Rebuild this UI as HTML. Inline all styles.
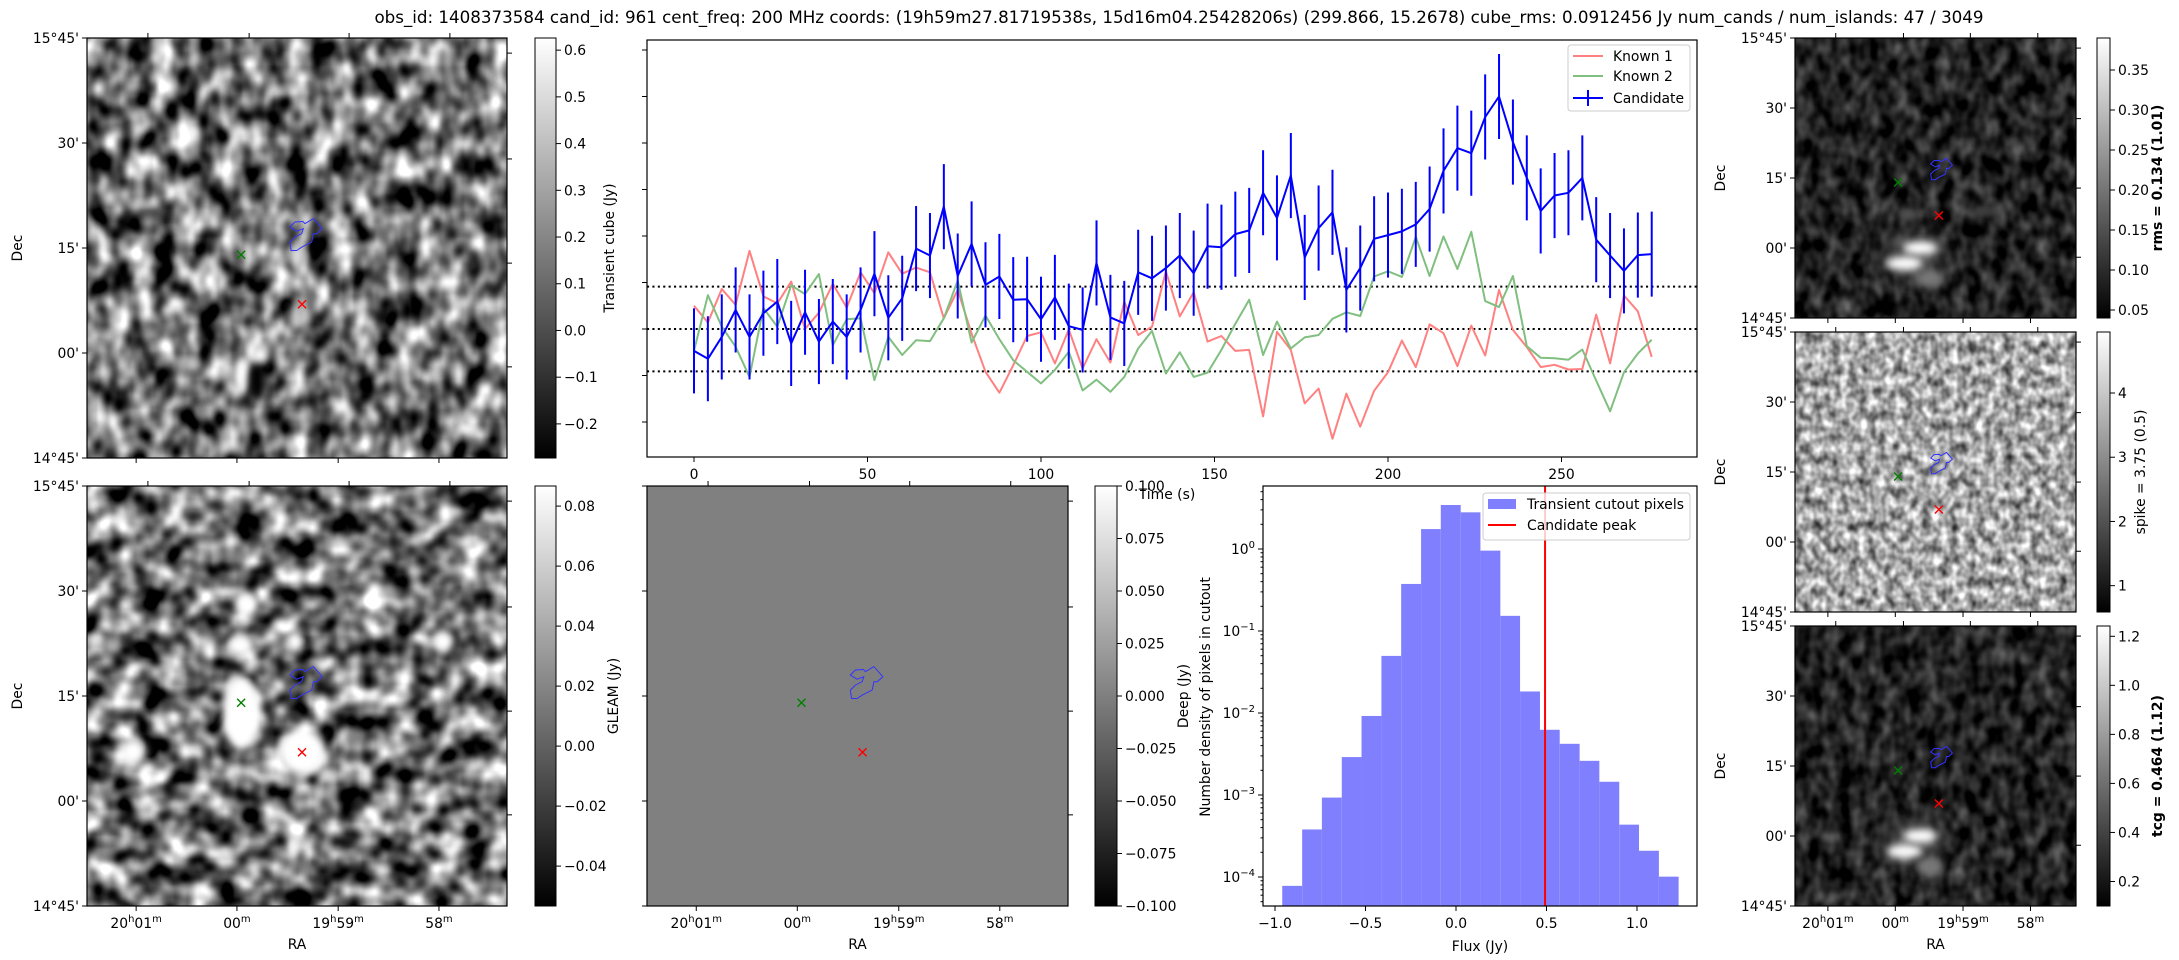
<!DOCTYPE html>
<html><head><meta charset="utf-8">
<style>
html,body{margin:0;padding:0;background:#fff;}
svg{display:block;font-family:"DejaVu Sans","Liberation Sans",sans-serif;}
</style></head>
<body>
<svg id="fig" xmlns="http://www.w3.org/2000/svg" width="2179" height="960" viewBox="0 0 2179 960">
<defs>
<linearGradient id="cbgrad" x1="0" y1="1" x2="0" y2="0"><stop offset="0" stop-color="#000"/><stop offset="1" stop-color="#fff"/></linearGradient>
<filter id="nTL" x="0" y="0" width="1" height="1" filterUnits="objectBoundingBox" color-interpolation-filters="sRGB"><feTurbulence type="fractalNoise" baseFrequency="0.045 0.035" numOctaves="2" seed="4"/><feColorMatrix type="matrix" values="2.0 0 0 0 -0.55  2.0 0 0 0 -0.55  2.0 0 0 0 -0.55  0 0 0 0 1"/></filter>
<filter id="nBL" x="0" y="0" width="1" height="1" filterUnits="objectBoundingBox" color-interpolation-filters="sRGB"><feTurbulence type="fractalNoise" baseFrequency="0.04 0.04" numOctaves="2" seed="11"/><feColorMatrix type="matrix" values="2.0 0 0 0 -0.55  2.0 0 0 0 -0.55  2.0 0 0 0 -0.55  0 0 0 0 1"/></filter>
<filter id="nDark" x="0" y="0" width="1" height="1" filterUnits="objectBoundingBox" color-interpolation-filters="sRGB"><feTurbulence type="fractalNoise" baseFrequency="0.07 0.05" numOctaves="2" seed="7"/><feColorMatrix type="matrix" values="0.7 0 0 0 -0.22  0.7 0 0 0 -0.22  0.7 0 0 0 -0.22  0 0 0 0 1"/></filter>
<filter id="nDark2" x="0" y="0" width="1" height="1" filterUnits="objectBoundingBox" color-interpolation-filters="sRGB"><feTurbulence type="fractalNoise" baseFrequency="0.07 0.05" numOctaves="2" seed="19"/><feColorMatrix type="matrix" values="0.7 0 0 0 -0.22  0.7 0 0 0 -0.22  0.7 0 0 0 -0.22  0 0 0 0 1"/></filter>
<filter id="nSpike" x="0" y="0" width="1" height="1" filterUnits="objectBoundingBox" color-interpolation-filters="sRGB"><feTurbulence type="fractalNoise" baseFrequency="0.11 0.09" numOctaves="2" seed="23"/><feColorMatrix type="matrix" values="1.2 0 0 0 0.05  1.2 0 0 0 0.05  1.2 0 0 0 0.05  0 0 0 0 1"/></filter>
<filter id="blur4" x="-50%" y="-50%" width="200%" height="200%"><feGaussianBlur stdDeviation="4"/></filter>
<filter id="blur8" x="-50%" y="-50%" width="200%" height="200%"><feGaussianBlur stdDeviation="9"/></filter>
</defs>
</svg>
<script>
// ---------------- Light curve data ----------------
const lcTimes = [0,4,8,12,16,20,24,28,32,36,40,44,48,52,56,60,64,68,72,76,80,84,88,92,96,100,104,108,112,116,120,124,128,132,136,140,144,148,152,156,160,164,168,172,176,180,184,188,192,196,200,204,208,212,216,220,224,228,232,236,240,244,248,252,256,260,264,268,272,276];
const candFlux = [-0.047,-0.064,-0.017,0.041,-0.017,0.034,0.059,-0.031,0.036,-0.027,0.016,-0.017,0.041,0.119,0.024,0.066,0.173,0.158,0.263,0.114,0.183,0.095,0.113,0.063,0.064,0.021,0.068,0.006,-0.002,0.142,0.025,0.012,0.122,0.109,0.131,0.158,0.120,0.178,0.176,0.204,0.212,0.293,0.239,0.330,0.154,0.217,0.251,0.084,0.131,0.194,0.202,0.210,0.225,0.258,0.340,0.389,0.378,0.456,0.500,0.402,0.325,0.254,0.287,0.293,0.325,0.192,0.158,0.125,0.159,0.161];
const candErr = 0.0915;
const known1Flux = [0.050,0.014,0.086,0.052,0.168,0.070,0.055,0.102,0.000,0.035,0.097,0.046,0.122,0.077,0.165,0.119,0.132,0.122,0.023,0.084,-0.010,-0.092,-0.137,-0.078,-0.015,-0.007,-0.074,-0.001,-0.085,-0.022,-0.072,0.059,-0.013,0.005,0.124,0.027,0.079,-0.027,-0.015,-0.047,-0.045,-0.188,-0.006,-0.045,-0.160,-0.128,-0.236,-0.139,-0.210,-0.133,-0.093,-0.025,-0.082,0.010,-0.009,-0.080,0.007,-0.057,0.084,-0.002,-0.039,-0.082,-0.077,-0.087,-0.086,0.031,-0.074,0.072,0.038,-0.060];
const known2Flux = [-0.047,0.073,0.005,-0.038,-0.103,0.045,0.005,0.094,0.075,0.118,-0.035,0.021,0.023,-0.110,-0.017,-0.056,-0.024,-0.026,0.023,0.104,-0.029,0.029,-0.022,-0.067,-0.092,-0.117,-0.088,-0.049,-0.132,-0.109,-0.135,-0.103,-0.042,-0.004,-0.096,-0.050,-0.103,-0.094,-0.045,0.011,0.063,-0.056,0.016,-0.042,-0.018,-0.013,0.022,0.036,0.028,0.113,0.124,0.112,0.198,0.114,0.199,0.129,0.209,0.060,0.047,0.114,-0.037,-0.062,-0.063,-0.066,-0.044,-0.111,-0.177,-0.093,-0.053,-0.023];
const rmsLines = [0.0912, 0, -0.0912];
const lcXTicks = [0,50,100,150,200,250];
const lcYTicks = [-0.2,-0.1,0,0.1,0.2,0.3,0.4,0.5,0.6];
// ---------------- Histogram data ----------------
const histEdges = [-0.960,-0.850,-0.741,-0.631,-0.522,-0.412,-0.303,-0.193,-0.084,0.026,0.135,0.245,0.354,0.464,0.573,0.683,0.792,0.902,1.011,1.121,1.230];
const histDensity = [7.8e-5,3.8e-4,9.3e-4,2.9e-3,9.2e-3,0.0497,0.375,1.75,3.44,2.80,0.955,0.153,0.0183,0.00624,0.00421,0.00261,0.00145,4.35e-4,2.09e-4,1.01e-4];
const candPeak = 0.492;
const histXTicks = [-1.0,-0.5,0.0,0.5,1.0];
const histDecades = [-4,-3,-2,-1,0];
// ---------------- Colorbar ticks ----------------
const cbTransientTicks = [0.6,0.5,0.4,0.3,0.2,0.1,0.0,-0.1,-0.2];
const cbDeepTicks = [0.08,0.06,0.04,0.02,0.00,-0.02,-0.04];
const cbGleamTicks = [0.100,0.075,0.050,0.025,0.000,-0.025,-0.050,-0.075,-0.100];
const cbRmsTicks = [0.35,0.30,0.25,0.20,0.15,0.10,0.05];
const cbSpikeTicks = [4,3,2,1];
const cbTcgTicks = [1.2,1.0,0.8,0.6,0.4,0.2];

const NS='http://www.w3.org/2000/svg';
const svg=document.getElementById('fig');
const FS=13.9;
function mk(tag, attrs, parent, name){
  const e=document.createElementNS(NS,tag);
  for(const k in attrs) e.setAttribute(k,attrs[k]);
  
  
  (parent||svg).appendChild(e);
  return e;
}
function txt(x,y,s,opts,parent,name){
  const a={x:x,y:y,'font-size':FS,fill:'#000'};
  for(const k in (opts||{})) a[k]=opts[k];
  const t=mk('text',a,parent,name);
  t.textContent=s;
  return t;
}
function minus(v,d){ const s=Math.abs(v).toFixed(d); return (v<0?'\u2212':'')+s; }
function line(x1,y1,x2,y2,parent,name,extra){
  const a={x1:x1,y1:y1,x2:x2,y2:y2,stroke:'#000','stroke-width':1};
  for(const k in (extra||{})) a[k]=extra[k];
  return mk('line',a,parent,name);
}

txt(1179,23,'obs_id: 1408373584 cand_id: 961 cent_freq: 200 MHz coords: (19h59m27.81719538s, 15d16m04.25428206s) (299.866, 15.2678) cube_rms: 0.0912456 Jy num_cands / num_islands: 47 / 3049',{'text-anchor':'middle','font-size':16.7},svg,'figure-title');

const contourRel=[[0.483,0.450],[0.495,0.438],[0.514,0.437],[0.519,0.442],[0.539,0.430],[0.560,0.454],[0.547,0.466],[0.539,0.466],[0.535,0.486],[0.511,0.498],[0.499,0.506],[0.486,0.506],[0.483,0.486],[0.495,0.474],[0.511,0.466],[0.515,0.454],[0.499,0.460]];
const greenRel=[0.367,0.516], redRel=[0.512,0.634];
const decLabels=["15\u00b045'","30'","15'","00'","14\u00b045'"];
const raBottomRel=[0.117,0.357,0.598,0.838], raTopRel=[0.145,0.386,0.624,0.864], rightRel=[0.036,0.288,0.536,0.783];
const raParts=[[['20',0],['h',1],['01',0],['m',1]],[['00',0],['m',1]],[['19',0],['h',1],['59',0],['m',1]],[['58',0],['m',1]]];

function cross(cx,cy,col,g,name){
  const grp=mk('g',{},g,name);
  line(cx-4,cy-4,cx+4,cy+4,grp,name+'-a',{stroke:col,'stroke-width':1.4});
  line(cx-4,cy+4,cx+4,cy-4,grp,name+'-b',{stroke:col,'stroke-width':1.4});
}
function raLabel(x,y,parts,g,name){
  const t=mk('text',{x:x,y:y,'font-size':FS,'text-anchor':'middle'},g,name);
  parts.forEach(p=>{
    const ts=document.createElementNS(NS,'tspan');
    if(p[1]){ts.setAttribute('font-size','10'); ts.setAttribute('dy','-6');}
    else if(t.childNodes.length){ts.setAttribute('dy','6');}
    ts.textContent=p[0];
    t.appendChild(ts);
  });
}
function imagePanel(o){
  const g=mk('g',{},svg,o.name);
  const inner=mk('svg',{x:o.x,y:o.y,width:o.w,height:o.h,overflow:'hidden'},g,o.name+'-image');
  if(o.flat){ mk('rect',{x:0,y:0,width:o.w,height:o.h,fill:o.flat},inner,o.name+'-pixels'); }
  else { mk('rect',{x:0,y:0,width:o.w,height:o.h,fill:'#808080',filter:'url(#'+o.filter+')'},inner,o.name+'-pixels'); }
  (o.blobs||[]).forEach((b,i)=>{
    mk('ellipse',{cx:b[0]*o.w,cy:b[1]*o.h,rx:b[2]*o.w,ry:b[3]*o.h,fill:b[4],filter:'url(#'+(b[5]||'blur4')+')','fill-opacity':b[6]||1},inner,o.name+'-source-'+i);
  });
  mk('polygon',{points:contourRel.map(p=>(o.x+p[0]*o.w).toFixed(1)+','+(o.y+p[1]*o.h).toFixed(1)).join(' '),fill:'none',stroke:'#3333ff','stroke-width':1},g,o.name+'-candidate-contour');
  cross(o.x+greenRel[0]*o.w,o.y+greenRel[1]*o.h,'#008000',g,o.name+'-known-marker');
  cross(o.x+redRel[0]*o.w,o.y+redRel[1]*o.h,'#ff0000',g,o.name+'-candidate-marker');
  mk('rect',{x:o.x,y:o.y,width:o.w,height:o.h,fill:'none',stroke:'#000','stroke-width':1.2},g,o.name+'-frame');
  for(let i=0;i<5;i++){
    const yy=o.y+i*o.h/4;
    line(o.x-5,yy,o.x,yy,g,o.name+'-dec-tick');
    if(o.decLabels) txt(o.x-8,yy+5,decLabels[i],{'text-anchor':'end'},g,o.name+'-dec-label');
  }
  rightRel.forEach(r=>line(o.x+o.w,o.y+r*o.h,o.x+o.w+5,o.y+r*o.h,g,o.name+'-right-tick'));
  raTopRel.forEach(r=>line(o.x+r*o.w,o.y-5,o.x+r*o.w,o.y,g,o.name+'-top-tick'));
  raBottomRel.forEach((r,i)=>{
    line(o.x+r*o.w,o.y+o.h,o.x+r*o.w,o.y+o.h+5,g,o.name+'-ra-tick');
    if(o.raLabels) raLabel(o.x+r*o.w,o.y+o.h+22,raParts[i],g,o.name+'-ra-label');
  });
  if(o.raLabels) txt(o.x+o.w/2,o.y+o.h+43,'RA',{'text-anchor':'middle'},g,o.name+'-ra-title');
  if(o.decLabels) txt(0,0,'Dec',{'text-anchor':'middle',transform:'translate('+o.decX+','+(o.y+o.h/2)+') rotate(-90)'},g,o.name+'-dec-title');
}
function colorbar(o){
  const g=mk('g',{},svg,o.name);
  mk('rect',{x:o.x,y:o.y,width:o.w,height:o.h,fill:'url(#cbgrad)',stroke:'#000','stroke-width':1},g,o.name+'-gradient');
  const ys=v=>o.y+o.h*(o.vmax-v)/(o.vmax-o.vmin);
  o.ticks.forEach(v=>{
    const y=ys(v);
    line(o.x+o.w,y,o.x+o.w+5,y,g,o.name+'-tick');
    txt(o.x+o.w+8,y+5,o.fmt(v),{},g,o.name+'-tick-label');
  });
  const a={'text-anchor':'middle',transform:'translate('+o.lx+','+(o.y+o.h/2)+') rotate(-90)'};
  if(o.bold) a['font-weight']='bold';
  txt(0,0,o.label,a,g,o.name+'-label');
}

imagePanel({name:'transient-cube-image',x:87,y:38,w:420,h:420,filter:'nTL',decLabels:true,decX:22,raLabels:false,
  blobs:[[0.369,0.80,0.022,0.04,'#fff'],[0.412,0.755,0.02,0.02,'#fff'],[0.405,0.82,0.02,0.045,'#000'],[0.50,0.52,0.02,0.03,'#ddd'],[0.50,0.66,0.015,0.03,'#ccc']]});
colorbar({name:'transient-colorbar',x:535,y:38,w:21,h:420,vmax:0.626,vmin:-0.273,ticks:cbTransientTicks,fmt:v=>minus(v,1),label:'Transient cube (Jy)',lx:614});

imagePanel({name:'deep-image',x:87,y:486,w:420,h:420,filter:'nBL',decLabels:true,decX:22,raLabels:true,
  blobs:[[0.367,0.54,0.045,0.09,'#fff'],[0.512,0.633,0.055,0.055,'#fff'],[0.11,0.633,0.03,0.03,'#fff'],[0.376,0.279,0.025,0.025,'#fff'],[0.364,0.379,0.03,0.025,'#fff'],[0.495,0.371,0.022,0.025,'#fff'],[0.848,0.371,0.025,0.025,'#fff'],[0.49,0.86,0.015,0.03,'#fff']]});
colorbar({name:'deep-colorbar',x:535,y:486,w:21,h:420,vmax:0.0867,vmin:-0.0533,ticks:cbDeepTicks,fmt:v=>minus(v,2),label:'GLEAM (Jy)',lx:618});

imagePanel({name:'gleam-image',x:647,y:486,w:421,h:420,flat:'#808080',decLabels:false,raLabels:true});
colorbar({name:'gleam-colorbar',x:1095,y:486,w:22,h:420,vmax:0.1,vmin:-0.1,ticks:cbGleamTicks,fmt:v=>minus(v,3),label:'Deep (Jy)',lx:1188});

imagePanel({name:'rms-image',x:1795,y:38,w:281,h:280,filter:'nDark',decLabels:true,decX:1725,raLabels:false,
  blobs:[[0.42,0.77,0.12,0.09,'#555','blur8',0.6],[0.445,0.75,0.06,0.025,'#fff'],[0.39,0.805,0.065,0.025,'#fff'],[0.48,0.86,0.05,0.035,'#777'],[0.4,0.63,0.04,0.02,'#555'],[0.68,0.62,0.05,0.02,'#444']]});
colorbar({name:'rms-colorbar',x:2097,y:38,w:13,h:280,vmax:0.39,vmin:0.04,ticks:cbRmsTicks,fmt:v=>v.toFixed(2),label:'rms = 0.134 (1.01)',lx:2162,bold:true});

imagePanel({name:'spike-image',x:1795,y:332,w:281,h:280,filter:'nSpike',decLabels:true,decX:1725,raLabels:false});
colorbar({name:'spike-colorbar',x:2097,y:332,w:13,h:280,vmax:4.95,vmin:0.59,ticks:cbSpikeTicks,fmt:v=>String(v),label:'spike = 3.75 (0.5)',lx:2145});

imagePanel({name:'tcg-image',x:1795,y:626,w:281,h:280,filter:'nDark2',decLabels:true,decX:1725,raLabels:true,
  blobs:[[0.42,0.77,0.12,0.09,'#555','blur8',0.6],[0.445,0.75,0.06,0.025,'#fff'],[0.39,0.805,0.065,0.025,'#fff'],[0.48,0.86,0.05,0.035,'#777']]});
colorbar({name:'tcg-colorbar',x:2097,y:626,w:13,h:280,vmax:1.242,vmin:0.10,ticks:cbTcgTicks,fmt:v=>v.toFixed(1),label:'tcg = 0.464 (1.12)',lx:2162,bold:true});

// ---------------- Light curve ----------------
const LC={x0:647,x1:1697,y0:40,y1:457};
const lx=t=>694+3.47*t;
const ly=v=>329-465*v;
const lcG=mk('g',{},svg,'light-curve-chart');
const lcClip=mk('svg',{x:LC.x0,y:LC.y0,width:LC.x1-LC.x0,height:LC.y1-LC.y0,overflow:'hidden'},lcG,'light-curve-plot-area');
const inner=mk('g',{transform:'translate('+(-LC.x0)+','+(-LC.y0)+')'},lcClip,'light-curve-series');
rmsLines.forEach(v=>{
  line(LC.x0,ly(v),LC.x1,ly(v),inner,'rms-threshold-line',{'stroke-width':2,'stroke-dasharray':'2.1,3.3'});
});
function series(arr,col,name){
  mk('polyline',{points:arr.map((v,i)=>lx(lcTimes[i]).toFixed(1)+','+ly(v).toFixed(1)).join(' '),fill:'none',stroke:col,'stroke-width':2,'stroke-linejoin':'round'},inner,name);
}
series(known1Flux,'#ff8080','known-1-line');
series(known2Flux,'#80bf80','known-2-line');
candFlux.forEach((v,i)=>{
  line(lx(lcTimes[i]),ly(v-candErr),lx(lcTimes[i]),ly(v+candErr),inner,'candidate-errorbar',{stroke:'#0000ff','stroke-width':2});
});
series(candFlux,'#0000ff','candidate-line');
mk('rect',{x:LC.x0,y:LC.y0,width:LC.x1-LC.x0,height:LC.y1-LC.y0,fill:'none',stroke:'#000','stroke-width':1.2},lcG,'light-curve-frame');
lcXTicks.forEach(t=>{
  line(lx(t),LC.y1,lx(t),LC.y1+5,lcG,'time-tick');
  txt(lx(t),LC.y1+22,String(t),{'text-anchor':'middle'},lcG,'time-tick-label');
});
lcYTicks.forEach(v=>line(LC.x0-5,ly(v),LC.x0,ly(v),lcG,'flux-tick'));
txt(1167,499,'Time (s)',{'text-anchor':'middle'},lcG,'time-axis-title');
const lg=mk('g',{},lcG,'light-curve-legend');
mk('rect',{x:1568,y:45,width:122,height:66,rx:3,fill:'#fff','fill-opacity':0.8,stroke:'#ccc'},lg,'legend-box');
line(1573,56,1603,56,lg,'legend-known-1-swatch',{stroke:'#ff8080','stroke-width':2});
txt(1613,61,'Known 1',{},lg,'legend-known-1-label');
line(1573,76,1603,76,lg,'legend-known-2-swatch',{stroke:'#80bf80','stroke-width':2});
txt(1613,81,'Known 2',{},lg,'legend-known-2-label');
line(1573,98,1603,98,lg,'legend-candidate-swatch',{stroke:'#0000ff','stroke-width':2});
line(1588,90,1588,106,lg,'legend-candidate-errorbar',{stroke:'#0000ff','stroke-width':2});
txt(1613,103,'Candidate',{},lg,'legend-candidate-label');

// ---------------- Histogram ----------------
const H={x0:1263,x1:1697,y0:486,y1:906};
const hx=v=>1456+181*v;
const hy=d=>549-82*Math.log10(d);
const hG=mk('g',{},svg,'pixel-histogram');
histDensity.forEach((d,i)=>{
  mk('rect',{x:hx(histEdges[i]),y:hy(d),width:hx(histEdges[i+1])-hx(histEdges[i]),height:H.y1-hy(d),fill:'#8080ff'},hG,'histogram-bar');
});
line(hx(candPeak),H.y0,hx(candPeak),H.y1,hG,'candidate-peak-line',{stroke:'#ff0000','stroke-width':2});
mk('rect',{x:H.x0,y:H.y0,width:H.x1-H.x0,height:H.y1-H.y0,fill:'none',stroke:'#000','stroke-width':1.2},hG,'histogram-frame');
histXTicks.forEach(v=>{
  line(hx(v),H.y1,hx(v),H.y1+5,hG,'flux-tick');
  txt(hx(v),H.y1+22,minus(v,1),{'text-anchor':'middle'},hG,'flux-tick-label');
});
histDecades.forEach(d=>{
  const y=hy(Math.pow(10,d));
  line(H.x0-5,y,H.x0,y,hG,'density-tick');
  const t=mk('text',{x:H.x0-8,y:y+5,'font-size':FS,'text-anchor':'end'},hG,'density-tick-label');
  t.textContent='10';
  const s=document.createElementNS(NS,'tspan');
  s.setAttribute('font-size','10'); s.setAttribute('dy','-6');
  s.textContent=d===0?'0':'\u2212'+Math.abs(d);
  t.appendChild(s);
});
for(let d=-5;d<=0;d++){
  for(let m=2;m<=9;m++){
    const y=hy(m*Math.pow(10,d));
    if(y>H.y0&&y<H.y1) line(H.x0-2.5,y,H.x0,y,hG,'density-minor-tick');
  }
}
txt(1480,951,'Flux (Jy)',{'text-anchor':'middle'},hG,'flux-axis-title');
txt(0,0,'Number density of pixels in cutout',{'text-anchor':'middle',transform:'translate(1210,697) rotate(-90)'},hG,'density-axis-title');
const hl=mk('g',{},hG,'histogram-legend');
mk('rect',{x:1483,y:493,width:207,height:47,rx:3,fill:'#fff','fill-opacity':0.8,stroke:'#ccc'},hl,'histogram-legend-box');
mk('rect',{x:1488,y:499,width:28,height:10,fill:'#8080ff'},hl,'legend-pixels-swatch');
txt(1527,509,'Transient cutout pixels',{},hl,'legend-pixels-label');
line(1488,525,1516,525,hl,'legend-peak-swatch',{stroke:'#ff0000','stroke-width':2});
txt(1527,530,'Candidate peak',{},hl,'legend-peak-label');
</script>
</body></html>
